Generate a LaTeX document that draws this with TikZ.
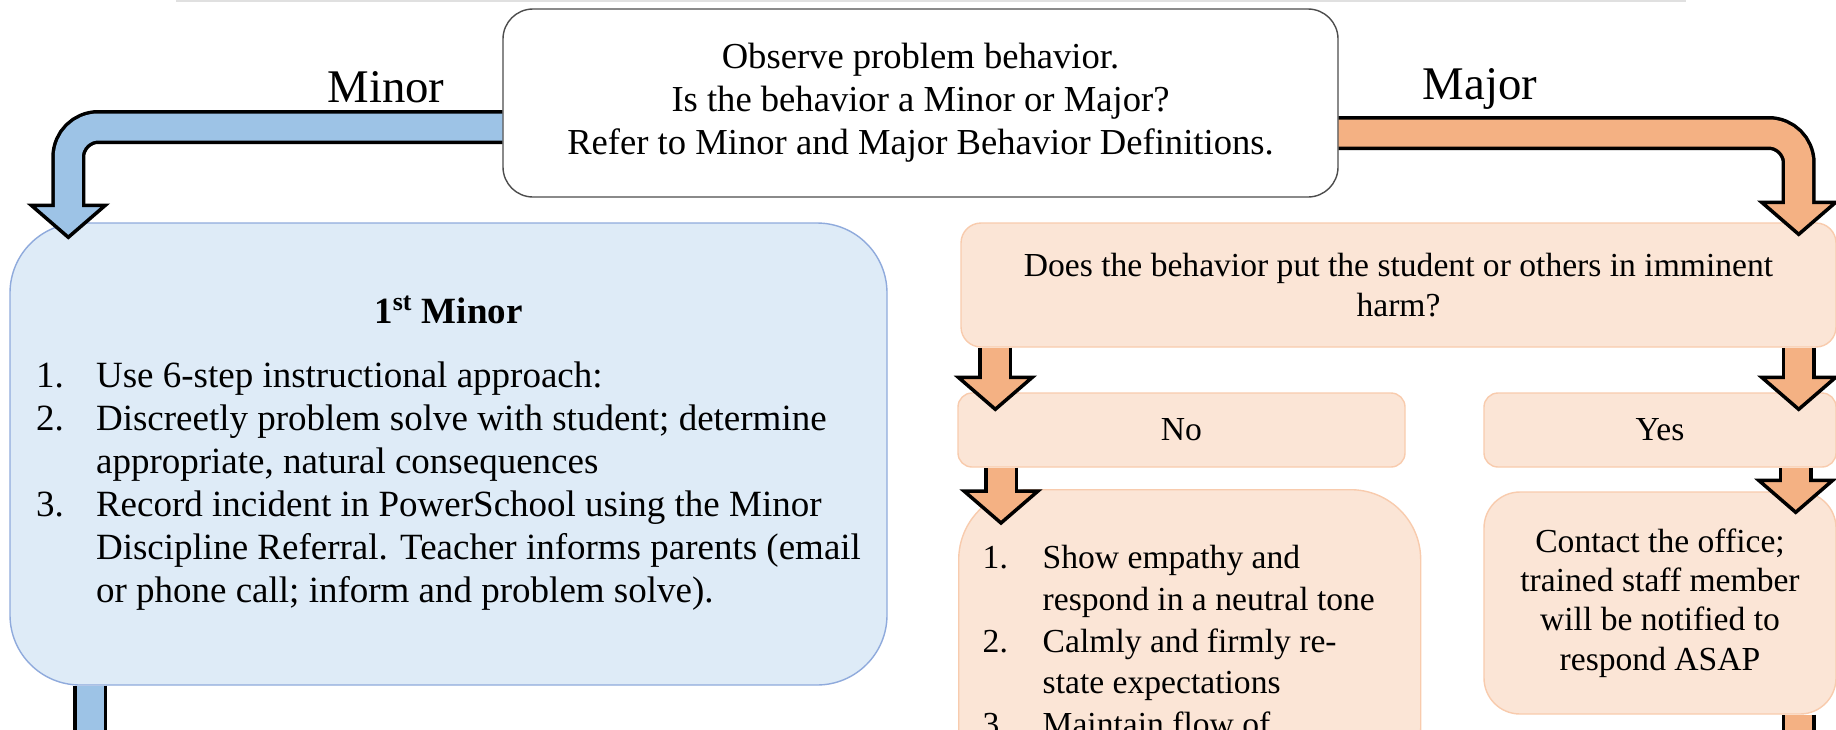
\documentclass[tikz,border=0pt]{standalone}
\usepackage{fontspec}
\setmainfont{Liberation Serif}
\usetikzlibrary{calc}
\definecolor{minorfill}{HTML}{DEEBF7}
\definecolor{minorline}{HTML}{8FAADC}
\definecolor{minorarrow}{HTML}{9DC3E6}
\definecolor{majorfill}{HTML}{FBE5D6}
\definecolor{majorline}{HTML}{F8CBAD}
\definecolor{majorarrow}{HTML}{F4B183}

\tikzset{
  qbox/.style={draw=black!70, fill=white, line width=0.7pt, rounded corners=15pt,
    align=center, minimum width=417.5pt, minimum height=94pt,
    font=\fontsize{18.3}{21.5}\selectfont},
  minorcard/.style={draw=minorline, fill=minorfill, line width=0.7pt,
    rounded corners=35pt, font=\fontsize{18.5}{21.5}\selectfont},
  majorcard/.style={draw=majorline, fill=majorfill, line width=0.7pt,
    align=center, font=\fontsize{16.8}{19.6}\selectfont},
  branch/.style={font=\fontsize{23.4}{28}\selectfont, anchor=base},
  shaftedge/.style={draw=black, line width=17pt, rounded corners=15pt},
  shaftfill/.style={draw=#1, line width=13.5pt, rounded corners=15pt},
  pics/downhead/.style={code={
    \draw[fill=#1, draw=black, line width=1.75pt, line join=miter]
      (-18.5pt,16pt) -- (18.5pt,16pt) -- (0pt,0pt) -- cycle;}},
}

\begin{document}
\begin{tikzpicture}[x=0.5pt, y=-0.5pt]
  \useasboundingbox (0,0) rectangle (1836,729);
  \clip (0,0) rectangle (1836,729);
  \draw[black!12, line width=1pt] (176,1) -- (1686,1);

  % question
  \node[qbox] (observe) at (920.5,103) {Observe problem behavior.\\
    Is the behavior a Minor or Major?\\
    Refer to Minor and Major Behavior Definitions.};
  \node[branch] (minorlab) at (386,102) {Minor};
  \node[branch] (majorlab) at (1480,99) {Major};

  % minor side
  \node[minorcard, minimum width=438.5pt, minimum height=231pt] (minorbox) at (448.5,454) {%
    \begin{tabular}{@{}p{30pt}@{}l@{}}
      \multicolumn{2}{c}{\textbf{1\textsuperscript{st} Minor}}\\[10.5pt]
      1. & Use 6-step instructional approach:\\
      2. & Discreetly problem solve with student; determine\\
         & appropriate, natural consequences\\
      3. & Record incident in PowerSchool using the Minor\\
         & Discipline Referral. Teacher informs parents (email\\
         & or phone call; inform and problem solve).
    \end{tabular}};

  % major side
  \node[majorcard, rounded corners=10pt, minimum width=437.5pt, minimum height=62pt] (harm)
    at (1398.5,285) {Does the behavior put the student or others in imminent\\harm?};
  \node[majorcard, rounded corners=7pt, minimum width=223.5pt, minimum height=37pt] (nobox)
    at (1181.5,430) {No};
  \node[majorcard, rounded corners=7pt, minimum width=176pt, minimum height=37pt] (yesbox)
    at (1660,430) {Yes};
  \node[majorcard, anchor=north west, rounded corners=35pt, minimum width=231pt,
    inner xsep=12pt, inner ysep=25pt, font=\fontsize{16.8}{20.8}\selectfont] (nolist) at (958,489) {%
    \begin{tabular}{@{}p{30pt}@{}p{177pt}@{}}
      1. & Show empathy and\\
         & respond in a neutral tone\\
      2. & Calmly and firmly re-\\
         & state expectations\\
      3. & Maintain flow of
    \end{tabular}};
  \node[majorcard, rounded corners=18pt, minimum width=176pt, minimum height=111pt] (yesnote)
    at (1660,603) {Contact the office;\\trained staff member\\will be notified to\\respond ASAP};

  % block arrows
  \coordinate (minorstart) at ($(observe.west)+(0,24)$);
  \coordinate (majorstart) at ($(observe.east)+(0,30)$);
  \coordinate (minortip) at ($(minorbox.north west)+(59,15)$);
  \coordinate (majortip) at ($(harm.north east)+(-38,12)$);
  \coordinate (notip) at ($(nobox.north west)+(38,17)$);
  \coordinate (yestip) at ($(yesbox.north east)+(-38,17)$);
  \coordinate (listtip) at ($(nolist.north west)+(43,34)$);
  \coordinate (notetip) at ($(yesnote.north east)+(-41,21)$);
  \coordinate (minorout) at ($(minorbox.south west)+(81,80)$);
  \coordinate (noteout) at ($(yesnote.south east)+(-38,80)$);

  \draw[shaftedge] (minorstart) -| ($(minortip)+(0,-32)$);
  \draw[shaftedge] (majorstart) -| ($(majortip)+(0,-32)$);
  \foreach \src/\tip in {harm/notip, harm/yestip, nobox/listtip, yesbox/notetip}
    \draw[shaftedge] (\src.south -| \tip) -- ($(\tip)+(0,-32)$);
  \foreach \src/\tail in {minorbox/minorout, yesnote/noteout}
    \draw[shaftedge] (\src.south -| \tail) -- (\tail);

  \pic at (minortip) {downhead=minorarrow};
  \foreach \tip in {majortip, notip, yestip, listtip, notetip}
    \pic at (\tip) {downhead=majorarrow};

  \draw[shaftfill=minorarrow] (minorstart) -| ($(minortip)+(0,-29)$);
  \draw[shaftfill=majorarrow] (majorstart) -| ($(majortip)+(0,-29)$);
  \foreach \src/\tip in {harm/notip, harm/yestip, nobox/listtip, yesbox/notetip}
    \draw[shaftfill=majorarrow] (\src.south -| \tip) -- ($(\tip)+(0,-29)$);
  \draw[shaftfill=minorarrow] (minorbox.south -| minorout) -- (minorout);
  \draw[shaftfill=majorarrow] (yesnote.south -| noteout) -- (noteout);
\end{tikzpicture}
\end{document}
